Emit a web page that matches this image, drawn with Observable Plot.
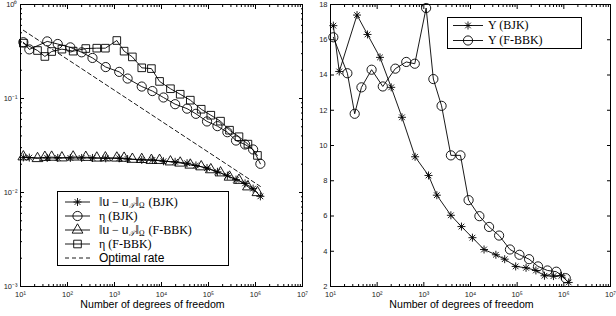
<!DOCTYPE html>
<html><head><meta charset="utf-8">
<script src="https://cdn.jsdelivr.net/npm/d3@7"></script>
<script src="https://cdn.jsdelivr.net/npm/@observablehq/plot@0.6"></script>
<style>
body{margin:0;background:#fff;}
#wrap{position:relative;width:616px;height:316px;overflow:hidden;background:#fff;}
.panel{position:absolute;top:0;}
.legend{position:absolute;background:#fff;border:1px solid #000;box-sizing:border-box;font-family:"Liberation Serif","DejaVu Serif","Times New Roman",serif;font-size:12px;color:#000;}
.row{position:relative;}
.row svg{position:absolute;left:0;top:0;overflow:visible;}
.row .t{position:absolute;white-space:nowrap;}
.sf{font-family:"Liberation Sans",Arial,sans-serif;}
.sb{font-size:7.5px;line-height:7px;position:relative;top:2px;margin-right:1px;}
.cal{font-family:"DejaVu Serif","Noto Sans",serif;font-style:italic;}
</style></head><body><div id="wrap"></div>
<script>
// ---- data ----
const dofBJK = [11.5, 15.4, 37, 62, 115, 200, 340, 650, 1260, 1900, 3800, 6400, 11000, 19500, 35000, 54000, 93000, 155000, 252000, 385000, 600000, 890000, 1270000];
const errBJK = [0.0236, 0.0235, 0.0233, 0.0233, 0.0233, 0.0233, 0.0233, 0.0231, 0.0231, 0.0227, 0.0222, 0.0222, 0.0215, 0.0212, 0.0205, 0.0194, 0.0182, 0.0166, 0.0151, 0.0137, 0.0125, 0.0110, 0.0091];
const etaBJK = [0.397, 0.333, 0.405, 0.380, 0.350, 0.310, 0.270, 0.216, 0.192, 0.163, 0.134, 0.120, 0.1025, 0.087, 0.078, 0.0687, 0.057, 0.0508, 0.0438, 0.0357, 0.0324, 0.0287, 0.0202];
const upsBJK = [16.8, 14.2, 17.4, 16.3, 15.0, 13.3, 11.6, 9.36, 8.3, 7.18, 6.04, 5.4, 4.77, 4.1, 3.8, 3.55, 3.14, 3.06, 2.91, 2.61, 2.59, 2.61, 2.23];

const dofFBBK = [11.5, 23, 33, 46, 76, 132, 245, 420, 640, 1120, 1600, 2400, 3800, 6100, 9100, 15500, 25000, 41000, 70000, 112000, 180000, 280000, 445000, 690000, 1100000];
const errFBBK = [0.0240, 0.0230, 0.0237, 0.0238, 0.0234, 0.0239, 0.0237, 0.0233, 0.0234, 0.0233, 0.0232, 0.0226, 0.0225, 0.0220, 0.0220, 0.0212, 0.0206, 0.0196, 0.0188, 0.0175, 0.0162, 0.0146, 0.0135, 0.0115, 0.0100];
const etaFBBK = [0.388, 0.324, 0.28, 0.316, 0.335, 0.319, 0.34, 0.343, 0.343, 0.414, 0.319, 0.277, 0.212, 0.208, 0.152, 0.127, 0.111, 0.096, 0.0769, 0.0664, 0.0574, 0.046, 0.0392, 0.0327, 0.0248];
const upsFBBK = [16.14, 14.1, 11.8, 13.3, 14.3, 13.35, 14.36, 14.74, 14.64, 17.8, 13.77, 12.25, 9.44, 9.44, 6.9, 5.99, 5.38, 4.89, 4.1, 3.8, 3.55, 3.14, 2.91, 2.84, 2.47];

const rateDof = [11.5, 1270000];
const rateVal = [0.532, 0.0116];

const xMajor = [1e1, 1e2, 1e3, 1e4, 1e5, 1e6, 1e7];
const yMajorLeft = [1e-3, 1e-2, 1e-1, 1e0];
const yMajorRight = [2, 4, 6, 8, 10, 12, 14, 16, 18];
const xTitle = "Number of degrees of freedom";

// ---- helpers ----
const bjk = dofBJK.map((n, i) => ({n, err: errBJK[i], eta: etaBJK[i], ups: upsBJK[i]}));
const fbbk = dofFBBK.map((n, i) => ({n, err: errFBBK[i], eta: etaFBBK[i], ups: upsFBBK[i]}));
const rate = rateDof.map((n, i) => ({n, v: rateVal[i]}));

const minorOf = (majors) => majors.slice(0, -1).flatMap(m => [2,3,4,5,6,7,8,9].map(k => k * m));
const xMinor = minorOf(xMajor);
const yMinorLeft = minorOf(yMajorLeft);

const sup = {"0":"⁰","1":"¹","2":"²","3":"³","4":"⁴","5":"⁵","6":"⁶","7":"⁷","8":"⁸","9":"⁹","-":"⁻"};
const powFmt = v => "10" + String(Math.round(Math.log10(v))).split("").map(c => sup[c]).join("");

const star8 = {draw(ctx, size) {
  const r = Math.sqrt(size / Math.PI);
  const d = r * Math.SQRT1_2;
  ctx.moveTo(-r, 0); ctx.lineTo(r, 0);
  ctx.moveTo(0, -r); ctx.lineTo(0, r);
  ctx.moveTo(-d, -d); ctx.lineTo(d, d);
  ctx.moveTo(-d, d); ctx.lineTo(d, -d);
}};

const tickFont = "Liberation Sans, Arial, sans-serif";
const ink = "#000";
const lw = 0.9;

function frameAxes(xTicks, xMinorTicks, yTicks, yMinorTicks, yFmt) {
  const m = [];
  for (const anchor of ["bottom", "top"]) {
    m.push(Plot.axisX(xTicks, {anchor, tickSize: -4, tickFormat: () => "", label: null, stroke: ink}));
    m.push(Plot.axisX(xMinorTicks, {anchor, tickSize: -2, tickFormat: () => "", label: null, stroke: ink}));
  }
  for (const anchor of ["left", "right"]) {
    m.push(Plot.axisY(yTicks, {anchor, tickSize: -4, tickFormat: () => "", label: null, stroke: ink}));
    if (yMinorTicks.length) m.push(Plot.axisY(yMinorTicks, {anchor, tickSize: -2, tickFormat: () => "", label: null, stroke: ink}));
  }
  m.push(Plot.axisX(xTicks, {anchor: "bottom", tickSize: 0, tickPadding: 5, tickFormat: powFmt, label: null, fill: "#222"}));
  m.push(Plot.axisY(yTicks, {anchor: "left", tickSize: 0, tickPadding: 3, tickFormat: yFmt, label: null, fill: "#222"}));
  m.push(Plot.frame({stroke: ink, strokeWidth: 1}));
  m.push(Plot.text([xTitle], {frameAnchor: "bottom", dy: 21, dx: -9, fontSize: 10.6, fontFamily: "Liberation Sans, Arial, sans-serif", fill: ink}));
  return m;
}

const commonStyle = {fontFamily: tickFont, fontSize: "7.5px", color: ink, background: "transparent", overflow: "visible"};

const left = Plot.plot({
  width: 308, height: 316,
  marginLeft: 20, marginRight: 6, marginTop: 4, marginBottom: 30,
  style: commonStyle,
  x: {type: "log", domain: [1e1, 1e7]},
  y: {type: "log", domain: [1e-3, 1]},
  marks: [
    Plot.line(rate, {x: "n", y: "v", stroke: ink, strokeWidth: lw, strokeDasharray: "4,3"}),
    Plot.line(bjk, {x: "n", y: "err", stroke: ink, strokeWidth: lw}),
    Plot.dot(bjk, {x: "n", y: "err", symbol: star8, r: 4, stroke: ink, fill: "none", strokeWidth: lw}),
    Plot.line(bjk, {x: "n", y: "eta", stroke: ink, strokeWidth: lw}),
    Plot.dot(bjk, {x: "n", y: "eta", symbol: "circle", r: 4.6, stroke: ink, fill: "none", strokeWidth: lw}),
    Plot.line(fbbk, {x: "n", y: "err", stroke: ink, strokeWidth: lw}),
    Plot.dot(fbbk, {x: "n", y: "err", symbol: "triangle", r: 4, stroke: ink, fill: "none", strokeWidth: lw}),
    Plot.line(fbbk, {x: "n", y: "eta", stroke: ink, strokeWidth: lw}),
    Plot.dot(fbbk, {x: "n", y: "eta", symbol: "square", r: 4.3, stroke: ink, fill: "none", strokeWidth: lw}),
    ...frameAxes(xMajor, xMinor, yMajorLeft, yMinorLeft, powFmt)
  ]
});

const right = Plot.plot({
  width: 308, height: 316,
  marginLeft: 22, marginRight: 6, marginTop: 4, marginBottom: 30,
  style: commonStyle,
  x: {type: "log", domain: [1e1, 1e7]},
  y: {type: "linear", domain: [2, 18]},
  marks: [
    Plot.line(bjk, {x: "n", y: "ups", stroke: ink, strokeWidth: lw}),
    Plot.dot(bjk, {x: "n", y: "ups", symbol: star8, r: 4, stroke: ink, fill: "none", strokeWidth: lw}),
    Plot.line(fbbk, {x: "n", y: "ups", stroke: ink, strokeWidth: lw}),
    Plot.dot(fbbk, {x: "n", y: "ups", symbol: "circle", r: 4.6, stroke: ink, fill: "none", strokeWidth: lw}),
    ...frameAxes(xMajor, xMinor, yMajorRight, [], d => String(d))
  ]
});

const wrap = document.getElementById("wrap");
left.classList.add("panel"); left.style.left = "0px";
right.classList.add("panel"); right.style.left = "308px";
wrap.appendChild(left); wrap.appendChild(right);

// ---- legends ----
function icon(symbol, r, dashed, x0, x1, h) {
  const cx = (x0 + x1) / 2, cy = h / 2;
  let s = `<svg width="${x1 + 4}" height="${h}"><line x1="${x0}" x2="${x1}" y1="${cy}" y2="${cy}" stroke="#000" stroke-width="${lw}"${dashed ? ' stroke-dasharray="4,3"' : ''}/>`;
  if (symbol) {
    const p = d3.symbol().type(symbol).size(Math.PI * r * r)();
    s += `<path d="${p}" transform="translate(${cx},${cy})" fill="none" stroke="#000" stroke-width="${lw}"/>`;
  }
  return s + "</svg>";
}
function legend(opts, rows) {
  const box = document.createElement("div");
  box.className = "legend";
  Object.assign(box.style, {left: opts.left + "px", top: opts.top + "px", width: opts.width + "px", height: opts.height + "px", paddingTop: opts.pad + "px"});
  for (const r of rows) {
    const row = document.createElement("div");
    row.className = "row";
    row.style.height = opts.rowH + "px";
    row.innerHTML = icon(r.symbol, r.r, r.dashed, opts.x0, opts.x1, opts.rowH) +
      `<span class="t" style="left:${opts.tx}px;top:1px;line-height:${opts.rowH - 2}px">${r.label}</span>`;
    box.appendChild(row);
  }
  wrap.appendChild(box);
}
const normLabel = (tag) => `‖<span class="sf">u</span> − <span class="sf">u</span><span class="sb cal">𝒯</span>‖<span class="sb">Ω</span> (${tag})`;
legend({left: 57, top: 191, width: 172, height: 75, pad: 3, rowH: 14, x0: 7, x1: 32, tx: 41}, [
  {symbol: star8, r: 4, label: normLabel("BJK")},
  {symbol: d3.symbolCircle, r: 4.6, label: "η (BJK)"},
  {symbol: d3.symbolTriangle, r: 4, label: normLabel("F-BBK")},
  {symbol: d3.symbolSquare, r: 4.3, label: "η (F-BBK)"},
  {symbol: null, dashed: true, label: '<span class="sf">Optimal rate</span>'}
]);
legend({left: 447, top: 17, width: 135, height: 32, pad: 0, rowH: 15, x0: 5, x1: 35, tx: 40}, [
  {symbol: star8, r: 4, label: "Υ (BJK)"},
  {symbol: d3.symbolCircle, r: 4.6, label: "Υ (F-BBK)"}
]);
</script>
</body></html>
